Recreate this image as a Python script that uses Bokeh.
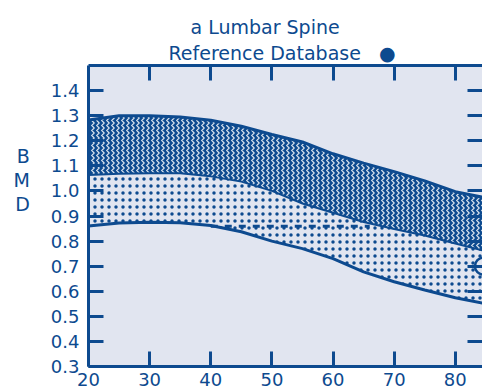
from bokeh.plotting import figure
from bokeh.models import FixedTicker, PrintfTickFormatter, LinearAxis, Title, Range1d
from bokeh.embed import file_html
from bokeh.resources import INLINE

# ---- data ----
ages = [20, 25, 30, 35, 40, 45, 50, 55, 60, 65, 70, 75, 80, 85]
upper = [1.283, 1.300, 1.300, 1.295, 1.282, 1.258, 1.225, 1.195, 1.148, 1.111, 1.077, 1.040, 0.997, 0.972]
mean = [1.063, 1.068, 1.070, 1.070, 1.058, 1.037, 1.000, 0.950, 0.913, 0.876, 0.848, 0.822, 0.790, 0.760]
lower = [0.860, 0.872, 0.875, 0.873, 0.862, 0.837, 0.800, 0.770, 0.730, 0.677, 0.638, 0.605, 0.574, 0.550]
ref_ages = [40, 66]
ref_level = [0.859, 0.859]
patient_age = [84.6]
patient_bmd = [0.70]
y_ticks = [0.3, 0.4, 0.5, 0.6, 0.7, 0.8, 0.9, 1.0, 1.1, 1.2, 1.3, 1.4]
x_ticks = [20, 30, 40, 50, 60, 70, 80]
title1 = "a Lumbar Spine"
title2 = "Reference Database"
ylabel = ["B", "M", "D"]

BLUE = "#0d4a8f"
BG = "#e1e5f0"
FONT = "DejaVu Sans"

p = figure(width=482, height=392, output_backend="svg", toolbar_location=None,
           x_range=Range1d(20, 84.45), y_range=Range1d(0.3, 1.5),
           x_axis_location=None, y_axis_location=None,
           min_border_left=88, min_border_right=0, min_border_top=65, min_border_bottom=26)
p.background_fill_color = BG
p.border_fill_color = "white"
p.outline_line_color = None
p.grid.visible = False

# bands
p.varea(x=ages, y1=mean, y2=upper, fill_color=BLUE, hatch_pattern="vertical_wave",
        hatch_color="white", hatch_scale=5, hatch_weight=1.2, hatch_alpha=0.85)
p.varea(x=ages, y1=lower, y2=mean, fill_color=BG, hatch_pattern="dot",
        hatch_color=BLUE, hatch_scale=7, hatch_weight=2.2)
p.line(ages, upper, line_color=BLUE, line_width=3)
p.line(ages, mean, line_color=BLUE, line_width=2)
p.line(ages, lower, line_color=BLUE, line_width=3)
p.line(ref_ages, ref_level, line_color=BLUE, line_width=3, line_dash="7 7")
p.scatter(patient_age, patient_bmd, size=17, fill_color=BG, line_color=BLUE, line_width=2.5)

def style(ax, ticks, labels=True):
    ax.axis_line_color = BLUE
    ax.axis_line_width = 3
    ax.major_tick_line_color = BLUE
    ax.major_tick_line_width = 3
    ax.major_tick_in = 15
    ax.major_tick_out = 0
    ax.minor_tick_line_color = None
    ax.major_label_text_color = BLUE
    ax.major_label_text_font = FONT
    ax.major_label_text_font_size = "18px"
    if not labels:
        ax.major_label_overrides = {t: "" for t in ticks}
        ax.major_label_text_font_size = "1px"
        ax.major_label_standoff = 0

left = LinearAxis(ticker=FixedTicker(ticks=y_ticks), formatter=PrintfTickFormatter(format="%.1f"))
style(left, y_ticks)
left.major_label_standoff = 9
# stacked letters; padding lines below lift the block to the reference position
left.axis_label = "\n".join(ylabel + ["\u00a0"] * 3)
left.axis_label_orientation = "horizontal"
left.axis_label_text_font = FONT
left.axis_label_text_font_size = "19px"
left.axis_label_text_font_style = "normal"
left.axis_label_text_color = BLUE
left.axis_label_text_line_height = 1.1
left.axis_label_standoff = 18
p.add_layout(left, "left")

bottom = LinearAxis(ticker=FixedTicker(ticks=x_ticks))
style(bottom, x_ticks)
bottom.major_label_standoff = 6
p.add_layout(bottom, "below")

top = LinearAxis(ticker=FixedTicker(ticks=x_ticks[1:]))
style(top, x_ticks[1:], labels=False)
p.add_layout(top, "above")

right = LinearAxis(ticker=FixedTicker(ticks=y_ticks[1:]))
style(right, y_ticks[1:], labels=False)
right.axis_line_color = None
p.add_layout(right, "right")

# titles
p.add_layout(Title(text=title2 + " \u00a0\u00a0\u25cf", align="left", offset=80, standoff=3,
                   text_color=BLUE, text_font=FONT, text_font_size="19px",
                   text_font_style="normal"), "above")
p.add_layout(Title(text=title1, align="left", offset=102, standoff=2,
                   text_color=BLUE, text_font=FONT, text_font_size="19px",
                   text_font_style="normal"), "above")

open("out.html", "w").write(file_html(p, INLINE))
